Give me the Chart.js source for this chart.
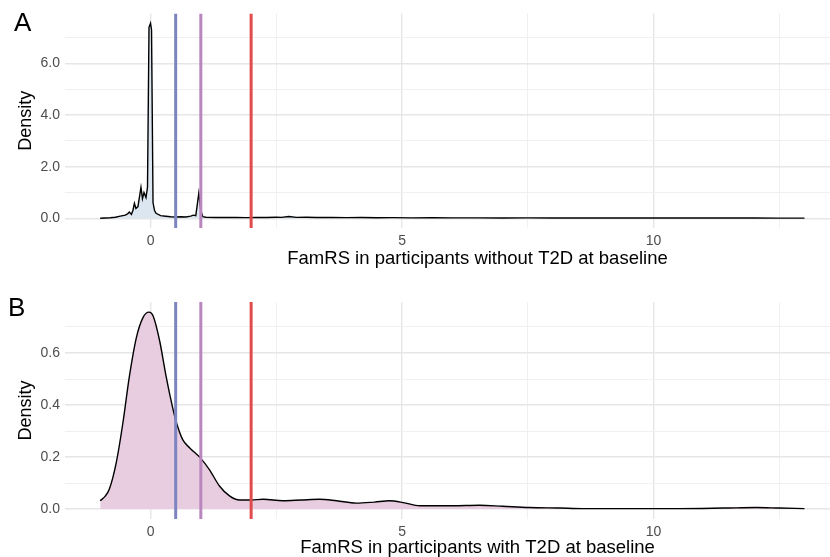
<!DOCTYPE html>
<html>
<head>
<meta charset="utf-8">
<script src="https://cdn.jsdelivr.net/npm/chart.js@4.4.0/dist/chart.umd.min.js"></script>
<style>
body { margin: 0; background: #fff; width: 830px; height: 557px; position: relative; overflow: hidden; font-family: "Liberation Sans", Arial, sans-serif; }
#wrapA { position: absolute; left: 0; top: 0; width: 890px; height: 270px; }
#wrapB { position: absolute; left: 0; top: 270px; width: 890px; height: 289px; }
.tag { position: absolute; font-size: 26px; color: #000; line-height: 1; }
</style>
</head>
<body>
<div id="wrapA"><canvas id="chartA"></canvas></div>
<div id="wrapB"><canvas id="chartB"></canvas></div>
<div class="tag" style="left:14px;top:9px">A</div>
<div class="tag" style="left:8px;top:294px">B</div>
<script>
// cut-offs drawn as vertical lines
const cutoffs = [0.5, 1.0, 2.0];
const cutoffColors = ['#7d85c1', '#b986bd', '#e04b4b'];

// panel A: without T2D
const famrsA = [-1.0, -0.9, -0.8, -0.7, -0.6, -0.5, -0.45, -0.42, -0.38, -0.35, -0.32, -0.29, -0.25, -0.19, -0.16, -0.13, -0.09, -0.06, -0.03, 0.0, 0.02, 0.05, 0.08, 0.11, 0.2, 0.3, 0.4, 0.5, 0.6, 0.7, 0.8, 0.85, 0.9, 0.96, 1.0, 1.04, 1.1, 1.3, 1.5, 1.7, 1.9, 2.1, 2.3, 2.5, 2.6, 2.75, 2.9, 3.1, 3.3, 3.6, 3.9, 4.2, 4.5, 4.8, 5.2, 5.6, 6.0, 6.5, 7.0, 7.5, 8.0, 8.5, 9.0, 9.5, 10.0, 10.5, 11.0, 11.5, 12.0, 12.5, 13.0];
const densityA = [0.0, 0.01, 0.02, 0.04, 0.08, 0.12, 0.18, 0.24, 0.15, 0.3, 0.58, 0.38, 0.45, 1.2, 0.76, 1.0, 0.8, 1.2, 7.4, 7.56, 7.3, 0.6, 0.3, 0.19, 0.1, 0.08, 0.06, 0.05, 0.06, 0.05, 0.08, 0.12, 0.1, 0.97, 0.3, 0.06, 0.04, 0.03, 0.035, 0.03, 0.025, 0.03, 0.03, 0.04, 0.035, 0.07, 0.035, 0.04, 0.03, 0.035, 0.025, 0.03, 0.02, 0.025, 0.015, 0.02, 0.015, 0.015, 0.01, 0.015, 0.01, 0.012, 0.008, 0.01, 0.008, 0.01, 0.008, 0.01, 0.008, 0.006, 0.005];

// panel B: with T2D
const famrsB = [-1.0, -0.9, -0.82, -0.68, -0.55, -0.42, -0.28, -0.15, -0.03, 0.05, 0.18, 0.31, 0.44, 0.51, 0.64, 0.78, 0.99, 1.17, 1.37, 1.57, 1.77, 2.0, 2.24, 2.63, 3.0, 3.36, 3.7, 4.09, 4.45, 4.75, 5.05, 5.35, 6.0, 6.54, 7.0, 7.53, 8.13, 8.59, 9.5, 10.5, 11.4, 12.04, 12.5, 13.0];
const densityB = [0.032, 0.05, 0.076, 0.18, 0.33, 0.51, 0.66, 0.736, 0.757, 0.743, 0.648, 0.51, 0.39, 0.336, 0.267, 0.235, 0.197, 0.152, 0.089, 0.051, 0.035, 0.035, 0.038, 0.032, 0.035, 0.038, 0.032, 0.023, 0.027, 0.032, 0.024, 0.013, 0.013, 0.015, 0.011, 0.006, 0.004, 0.002, 0.002, 0.002, 0.004, 0.006, 0.004, 0.002];

// the panel runs past the right edge of the picture
const xMin = -1.7, xMax = 14.7;
const xLabelTicks = [0, 5, 10];

const gridMajor = '#e6e6e6';
const gridMinor = '#f0f0f0';
const fontFamily = '"Liberation Sans", Arial, sans-serif';

function makeChart(id, xs, ys, fillColor, yMin, yMax, yStep, yLabelEvery, xTitle, padTop, xAxisHeight) {
    const points = xs.map((x, i) => ({ x: x, y: ys[i] }));
    const vlines = cutoffs.map((c, i) => ({
        data: [{ x: c, y: yMin }, { x: c, y: yMax }],
        borderColor: cutoffColors[i],
        borderWidth: 3,
        pointRadius: 0,
        fill: false,
        order: 0
    }));
    const ctx = document.getElementById(id).getContext('2d');
    return new Chart(ctx, {
        type: 'line',
        data: {
            datasets: vlines.concat([{
                data: points,
                borderColor: '#000',
                borderWidth: 1.4,
                backgroundColor: fillColor,
                pointRadius: 0,
                fill: 'origin',
                tension: id === 'chartB' ? 0.4 : 0,
                cubicInterpolationMode: id === 'chartB' ? 'monotone' : 'default',
                order: 1
            }])
        },
        options: {
            responsive: true,
            maintainAspectRatio: false,
            animation: false,
            layout: { padding: { top: padTop, left: 0, right: 0, bottom: 0 } },
            plugins: { legend: { display: false }, tooltip: { enabled: false } },
            scales: {
                x: {
                    type: 'linear',
                    min: xMin,
                    max: xMax,
                    afterFit: s => { s.height = xAxisHeight; },
                    border: { display: false },
                    grid: {
                        drawTicks: false,
                        color: c => xLabelTicks.includes(c.tick.value) ? gridMajor : gridMinor,
                        lineWidth: c => xLabelTicks.includes(c.tick.value) ? 1.4 : 1
                    },
                    ticks: {
                        stepSize: 2.5,
                        includeBounds: false,
                        autoSkip: false,
                        maxRotation: 0,
                        padding: 5,
                        color: '#4d4d4d',
                        font: { family: fontFamily, size: 14 },
                        callback: v => xLabelTicks.includes(v) ? String(v) : ''
                    },
                    title: {
                        display: true,
                        text: xTitle,
                        color: '#000',
                        font: { family: fontFamily, size: 18.5 },
                        padding: { top: 0, bottom: 0 }
                    }
                },
                y: {
                    min: yMin,
                    max: yMax,
                    afterFit: s => { s.width = 65; },
                    border: { display: false },
                    grid: {
                        drawTicks: false,
                        color: c => Math.round(c.tick.value / yStep) % yLabelEvery === 0 ? gridMajor : gridMinor,
                        lineWidth: c => Math.round(c.tick.value / yStep) % yLabelEvery === 0 ? 1.4 : 1
                    },
                    ticks: {
                        stepSize: yStep,
                        includeBounds: false,
                        autoSkip: false,
                        padding: 5,
                        color: '#4d4d4d',
                        font: { family: fontFamily, size: 14 },
                        callback: v => Math.round(v / yStep) % yLabelEvery === 0 ? (Math.round(v / yStep) * yStep).toFixed(1) : ''
                    },
                    title: {
                        display: true,
                        text: 'Density',
                        color: '#000',
                        font: { family: fontFamily, size: 18 },
                        padding: { top: 15, bottom: 0 }
                    }
                }
            }
        }
    });
}

const chartA = makeChart('chartA', famrsA, densityA, '#dce6f1', -0.378, 7.94, 1, 2,
    'FamRS in participants without T2D at baseline', 10, 42);
const chartB = makeChart('chartB', famrsB, densityB, '#e8cce0', -0.038, 0.796, 0.1, 2,
    'FamRS in participants with T2D at baseline', 32, 40);
</script>
</body>
</html>
